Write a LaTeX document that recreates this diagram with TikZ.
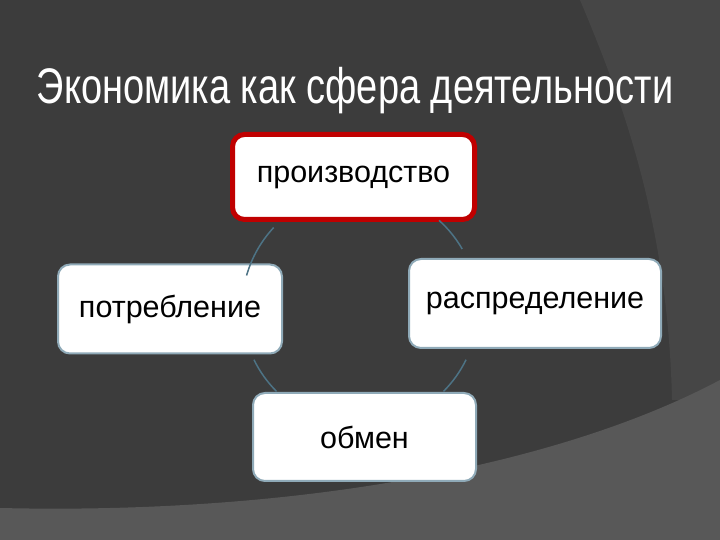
\documentclass[tikz,border=0pt]{standalone}
\usepackage{fontspec}
\setmainfont{Liberation Sans}
\newfontfamily\titlefont[FakeStretch=0.76]{Liberation Sans}
\usepackage{tikz}
\usetikzlibrary{shapes,arrows,positioning}

\definecolor{slidebg}{HTML}{3C3C3C}
\definecolor{sidegrey}{HTML}{464646}
\definecolor{floorgrey}{HTML}{585858}
\definecolor{sectorline}{HTML}{8FAAB8}
\definecolor{mainred}{HTML}{C00000}
\definecolor{linkblue}{HTML}{4D7385}

\begin{document}
\begin{tikzpicture}[
    x=1pt, y=1pt,
    sector/.style={rectangle, rounded corners=12pt, draw=sectorline, line width=2pt, fill=white, minimum height=89pt, font=\fontsize{30.5}{34}\selectfont, text=black},
    mainsector/.style={sector, draw=mainred, line width=5pt},
    link/.style={draw=linkblue, line width=1.5pt},
]

% slide background
\fill[slidebg] (0,0) rectangle (720,540);
\fill[sidegrey] (580,540) .. controls (620,445) and (668,320) .. (672,140) -- (720,140) -- (720,540) -- cycle;
\fill[floorgrey] (0,32) .. controls (300,25) and (560,75) .. (720,160) -- (720,0) -- (0,0) -- cycle;

\node[anchor=base, text=white, font=\titlefont\fontsize{50}{56}\selectfont] (title) at (355,436) {Экономика как сфера деятельности};

% cycle
\node[mainsector, minimum width=242pt, minimum height=85pt] (prod) at (353.5,363) {производство};
\node[sector, minimum width=252pt] (distr) at (535,236.5) {распределение};
\node[sector, minimum width=223pt, minimum height=88pt] (exch) at (364.5,103) {обмен};
\node[sector, minimum width=224pt] (cons) at (170,231) {потребление};

\coordinate (hub) at (360,232);
\draw[link] (hub) ++(137:118) arc[start angle=137, end angle=164, radius=118];
\draw[link] (hub) ++(30:118) arc[start angle=30, end angle=48, radius=118];
\draw[link] (hub) ++(-45:118) arc[start angle=-45, end angle=-26, radius=118];
\draw[link] (hub) ++(-154:118) arc[start angle=-154, end angle=-135, radius=118];

\end{tikzpicture}
\end{document}
